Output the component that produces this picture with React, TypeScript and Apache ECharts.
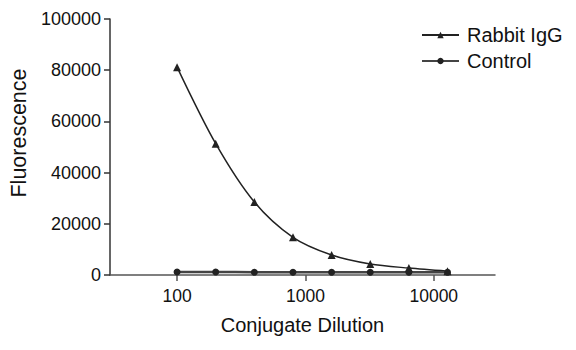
import React, { useEffect, useRef } from "react";
import * as echarts from "echarts";

const dilutions = [100, 200, 400, 800, 1600, 3200, 6400, 12800];
const rabbitIgG = [81200, 51300, 28500, 14700, 7800, 4300, 2700, 1500];
const control = [1150, 1150, 1100, 1100, 1050, 1100, 1100, 1050];
const xTickValues = [100, 1000, 10000];
const seriesNames = ["Rabbit IgG", "Control"];

export default function App() {
  const ref = useRef<HTMLDivElement>(null);
  useEffect(() => {
    if (!ref.current) return;
    const chart = echarts.init(ref.current, undefined, { renderer: "svg" });
    const font = "Liberation Sans, Arial, sans-serif";
    const ink = "#222";
    const plain = (v: number) => String(Math.round(v));
    chart.setOption({
      animation: false,
      backgroundColor: "#fff",
      grid: { left: 109, right: 81, top: 19, bottom: 75, containLabel: false },
      legend: {
        orient: "vertical",
        left: 421,
        top: 25,
        padding: 0,
        itemGap: 6,
        itemWidth: 37,
        itemHeight: 8,
        data: seriesNames,
        textStyle: { fontFamily: font, fontSize: 20, color: "#111", padding: [0, 0, 0, 3] },
      },
      xAxis: {
        type: "log",
        logBase: 10,
        min: 30,
        max: 30000,
        name: "Conjugate Dilution",
        nameLocation: "middle",
        nameGap: 40,
        nameTextStyle: { fontFamily: font, fontSize: 20, color: "#111" },
        axisLine: { onZero: false, lineStyle: { color: "#555", width: 1.5 } },
        axisTick: { show: true, length: 6, lineStyle: { color: "#555", width: 1.5 }, customValues: xTickValues },
        axisLabel: { fontFamily: font, fontSize: 17.5, color: "#111", margin: 12, customValues: xTickValues, formatter: plain },
        splitLine: { show: false },
        minorTick: { show: false },
      },
      yAxis: {
        type: "value",
        min: 0,
        max: 100000,
        interval: 20000,
        name: "Fluorescence",
        nameLocation: "middle",
        nameGap: 76,
        nameTextStyle: { fontFamily: font, fontSize: 21.5, color: "#111", padding: [0, 0, 0, 28] },
        axisLine: { show: true, onZero: false, lineStyle: { color: "#333", width: 1.5 } },
        axisTick: { show: true, length: 6, lineStyle: { color: "#333", width: 1.5 } },
        axisLabel: { fontFamily: font, fontSize: 18, color: "#111", margin: 9, formatter: plain },
        splitLine: { show: false },
      },
      series: [
        {
          name: seriesNames[0],
          type: "line",
          data: dilutions.map((d, i) => [d, rabbitIgG[i]]),
          smooth: 0.3,
          symbol: "triangle",
          symbolSize: 8,
          itemStyle: { color: ink },
          lineStyle: { color: ink, width: 1.5 },
        },
        {
          name: seriesNames[1],
          type: "line",
          data: dilutions.map((d, i) => [d, control[i]]),
          smooth: 0.3,
          symbol: "circle",
          symbolSize: 7,
          itemStyle: { color: ink },
          lineStyle: { color: "#444", width: 2.5 },
        },
      ],
    });
    return () => chart.dispose();
  }, []);
  return <div ref={ref} style={{ position: "fixed", left: 0, top: 0, width: 576, height: 350 }} />;
}
